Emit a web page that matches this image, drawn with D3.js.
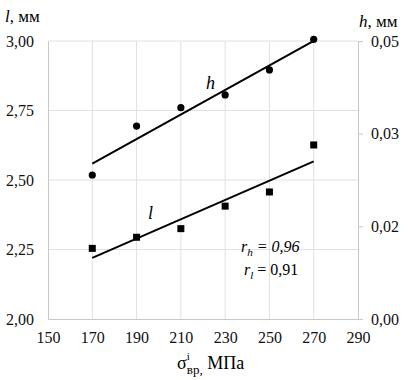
<!DOCTYPE html>
<html>
<head>
<meta charset="utf-8">
<script src="https://cdn.jsdelivr.net/npm/d3@7"></script>
<style>
  body { margin: 0; font-family: "Times New Roman", serif; }
  svg, svg text, svg tspan { font-family: "Times New Roman", serif !important; }
</style>
</head>
<body>
<div id="chart"></div>
<script>
// stress values (MPa) and measured l (mm, left axis), h (mm, right axis)
const stress = [170, 190, 210, 230, 250, 270];
const lValues = [2.254, 2.294, 2.325, 2.406, 2.457, 2.626];
const hValues = [0.0259, 0.0347, 0.0380, 0.0403, 0.0448, 0.0503];
const xTicks = [150, 170, 190, 210, 230, 250, 270, 290];
const lTicks = [2.00, 2.25, 2.50, 2.75, 3.00];
const hTickLabels = ["0,00", "0,02", "0,03", "0,05"];

const fontName = "Times New Roman";
const margin = { top: 41, right: 50, bottom: 61, left: 48 };
const width = 408 - margin.left - margin.right;
const height = 380 - margin.top - margin.bottom;

const root = d3.select("#chart")
    .append("svg")
    .attr("width", 408)
    .attr("height", 380)
    .style("font-family", fontName, "important");

const svg = root.append("g")
    .attr("transform", `translate(${margin.left},${margin.top})`);

const comma = f => v => d3.format(f)(v).replace(".", ",");

const x = d3.scaleLinear().domain([150, 290]).range([0, width]);
const yL = d3.scaleLinear().domain([2, 3]).range([height, 0]);
const yH = d3.scaleLinear().domain([0, 0.05]).range([height, 0]);

// gridlines
svg.append("g")
    .selectAll("line")
    .data(xTicks.slice(1, -1))
    .enter()
    .append("line")
    .attr("x1", d => x(d)).attr("x2", d => x(d))
    .attr("y1", 0).attr("y2", height)
    .attr("stroke", "#e0e0e0");

svg.append("g")
    .selectAll("line")
    .data(lTicks.slice(1))
    .enter()
    .append("line")
    .attr("x1", 0).attr("x2", width)
    .attr("y1", d => yL(d)).attr("y2", d => yL(d))
    .attr("stroke", "#e0e0e0");

// axes
const xAxis = svg.append("g")
    .attr("transform", `translate(0,${height})`)
    .call(d3.axisBottom(x).tickValues(xTicks).tickSize(0).tickPadding(13));

const leftAxis = svg.append("g")
    .call(d3.axisLeft(yL).tickValues(lTicks).tickFormat(comma(".2f"))
        .tickSize(0).tickPadding(14));

const hTickValues = hTickLabels.map((d, i) => i * 0.05 / (hTickLabels.length - 1));
const rightAxis = svg.append("g")
    .attr("transform", `translate(${width},0)`)
    .call(d3.axisRight(yH).tickValues(hTickValues)
        .tickFormat((d, i) => hTickLabels[i])
        .tickSizeInner(5).tickSizeOuter(0).tickPadding(8));

[xAxis, leftAxis, rightAxis].forEach(a => {
    a.attr("font-family", fontName).attr("font-size", 16);
    a.select(".domain").attr("stroke", "#c8c8c8");
    a.selectAll(".tick line").attr("stroke", "#c8c8c8");
    a.selectAll(".tick text").attr("fill", "#111");
});

// least squares trendline
function fit(xs, ys) {
    const mx = d3.mean(xs), my = d3.mean(ys);
    const b = d3.sum(xs, (v, i) => (v - mx) * (ys[i] - my)) / d3.sum(xs, v => (v - mx) ** 2);
    return v => my + b * (v - mx);
}
const fitL = fit(stress, lValues);
const fitH = fit(stress, hValues);
const x0 = d3.min(stress), x1 = d3.max(stress);

svg.append("line")
    .attr("x1", x(x0)).attr("y1", yH(fitH(x0)))
    .attr("x2", x(x1)).attr("y2", yH(fitH(x1)))
    .attr("stroke", "#000").attr("stroke-width", 2);

svg.append("line")
    .attr("x1", x(x0)).attr("y1", yL(fitL(x0)))
    .attr("x2", x(x1)).attr("y2", yL(fitL(x1)))
    .attr("stroke", "#000").attr("stroke-width", 2);

// markers
svg.selectAll("circle")
    .data(stress)
    .enter()
    .append("circle")
    .attr("cx", d => x(d))
    .attr("cy", (d, i) => yH(hValues[i]))
    .attr("r", 3.6)
    .attr("fill", "#000");

svg.selectAll("rect.pt")
    .data(stress)
    .enter()
    .append("rect")
    .attr("class", "pt")
    .attr("x", d => x(d) - 3.5)
    .attr("y", (d, i) => yL(lValues[i]) - 3.5)
    .attr("width", 7)
    .attr("height", 7)
    .attr("fill", "#000");

// series labels
svg.append("text")
    .attr("x", 158).attr("y", 48)
    .attr("font-size", 18).attr("font-style", "italic")
    .text("h");

svg.append("text")
    .attr("x", 100).attr("y", 178)
    .attr("font-size", 18).attr("font-style", "italic")
    .text("l");

// correlation annotations
const rh = svg.append("text")
    .attr("x", 193).attr("y", 211)
    .attr("font-size", 16).attr("font-style", "italic");
rh.append("tspan").text("r");
rh.append("tspan").attr("dy", 4).attr("font-size", 11).text("h");
rh.append("tspan").attr("dy", -4).text(" = 0,96");

const rl = svg.append("text")
    .attr("x", 196).attr("y", 234)
    .attr("font-size", 16);
rl.append("tspan").attr("font-style", "italic").text("r");
rl.append("tspan").attr("dy", 4).attr("font-size", 11).attr("font-style", "italic").text("l");
rl.append("tspan").attr("dy", -4).text(" = 0,91");

// axis titles
const yt = svg.append("text")
    .attr("x", -margin.left + 5).attr("y", -19)
    .attr("font-size", 17);
yt.append("tspan").attr("font-style", "italic").text("l");
yt.append("tspan").text(", мм");

const ht = svg.append("text")
    .attr("x", width + 1).attr("y", -14)
    .attr("font-size", 17);
ht.append("tspan").attr("font-style", "italic").text("h");
ht.append("tspan").text(", мм");

const xt = svg.append("text")
    .attr("x", 129).attr("y", height + 50)
    .attr("font-size", 18);
xt.append("tspan").text("σ");
xt.append("tspan").attr("dy", -9).attr("font-size", 11).text("i");
xt.append("tspan").attr("dx", -3).attr("dy", 14).attr("font-size", 13).text("вр,");
xt.append("tspan").attr("dy", -5).text(" МПа");

// serif face on every label
root.selectAll("text, tspan").style("font-family", fontName, "important");
</script>
</body>
</html>
